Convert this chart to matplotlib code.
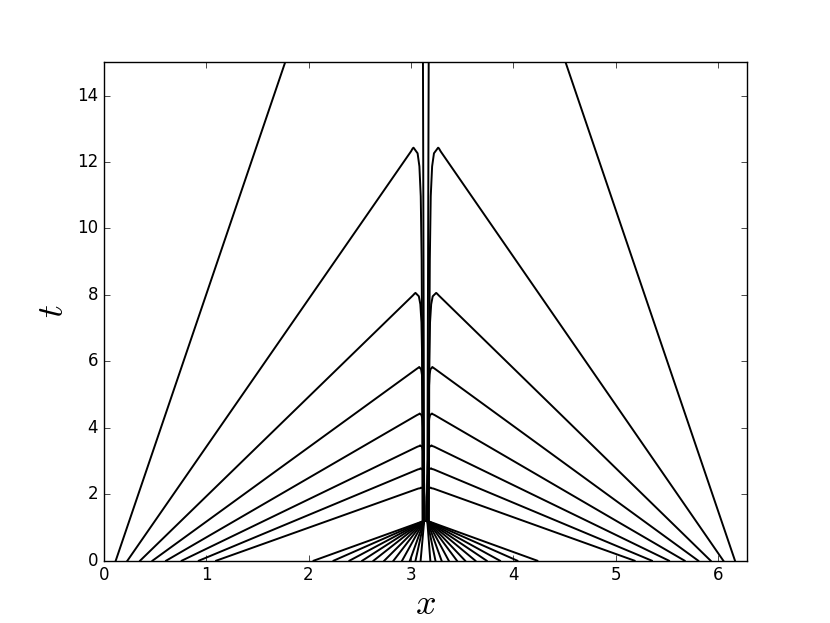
import matplotlib

matplotlib.use("Agg")
import matplotlib.pyplot as plt

# characteristics / level curves
# straight lines that leave the top of the box
straight_left = (0.117, 1.772)   # x at t=0, x at t=15
straight_right = (6.166, 4.511)

# lines that rise, turn over near the shock and run down into it
peak_t = [12.43, 8.06, 5.83, 4.43, 3.47, 2.78, 2.20]
outer_left = [0.231, 0.355, 0.476, 0.609, 0.762, 0.929, 1.098]
peak_x_left = [3.026, 3.045, 3.082, 3.086, 3.090, 3.094, 3.098]
end_x_left = [3.114, 3.118, 3.122, 3.126, 3.130, 3.133, 3.136]
outer_right = [6.052, 5.928, 5.807, 5.674, 5.521, 5.354, 5.185]
peak_x_right = [3.266, 3.247, 3.210, 3.206, 3.202, 3.198, 3.194]
end_x_right = [3.176, 3.172, 3.168, 3.164, 3.160, 3.157, 3.154]

# fan of lines that meet at the shock formation point
fan_left = [2.050, 2.245, 2.400, 2.525, 2.635, 2.740, 2.830, 2.914, 2.990, 3.045, 3.095]
fan_right = [3.190, 3.240, 3.300, 3.370, 3.450, 3.530, 3.630, 3.740, 3.870, 4.040, 4.235]

t_shock = 1.2
shock_x_left = 3.130
shock_x_right = 3.160
top_x_left = 3.118
top_x_right = 3.174

T_MAX = 15.0
X_MAX = 6.283185307179586

# shape of the rounded turn-over (fractions of the way down to the shock)
FRAC_T = [0.0, 0.015, 0.05, 0.13, 0.30, 0.55, 1.00]
FRAC_X = [0.0, 0.45, 0.65, 0.80, 0.90, 0.96, 1.00]

plt.style.use("classic")
fig = plt.figure(figsize=(8.3, 6.23), dpi=100, facecolor="white")
ax = fig.add_subplot(111)

line_kw = dict(color="black", lw=1.4)

# outer lines reaching t = 15
ax.plot([straight_left[0], straight_left[1]], [0, T_MAX], **line_kw)
ax.plot([straight_right[0], straight_right[1]], [0, T_MAX], **line_kw)


def turning_curve(x0, xp, tp, x_end):
    # straight rise, small rounding just before the top, then down into the shock
    slope = tp / (xp - x0)
    side = 1.0 if xp > x0 else -1.0
    xs = [x0, xp - side * 0.025, xp - side * 0.008]
    ts = [0.0, tp - 0.025 * abs(slope), tp - 0.02]
    w = x_end - xp
    for fx, ft in zip(FRAC_X, FRAC_T):
        xs.append(xp + fx * w)
        ts.append(tp - ft * (tp - t_shock))
    return xs, ts


for x0, xp, tp, xe in zip(outer_left, peak_x_left, peak_t, end_x_left):
    xs, ts = turning_curve(x0, xp, tp, xe)
    ax.plot(xs, ts, **line_kw)
for x0, xp, tp, xe in zip(outer_right, peak_x_right, peak_t, end_x_right):
    xs, ts = turning_curve(x0, xp, tp, xe)
    ax.plot(xs, ts, **line_kw)

# fan into the shock
for x0 in fan_left:
    ax.plot([x0, shock_x_left], [0, t_shock], **line_kw)
for x0 in fan_right:
    ax.plot([x0, shock_x_right], [0, t_shock], **line_kw)

# the two lines that follow the shock to the top
ax.plot([shock_x_left, top_x_left], [t_shock, T_MAX], **line_kw)
ax.plot([shock_x_right, top_x_right], [t_shock, T_MAX], **line_kw)

ax.set_xlim(0, X_MAX)
ax.set_ylim(0, T_MAX)
ax.set_xlabel("$x$", fontsize=26, labelpad=2)
ax.set_ylabel("$t$", fontsize=26)

fig.savefig("out.png", dpi=100, facecolor="white")
